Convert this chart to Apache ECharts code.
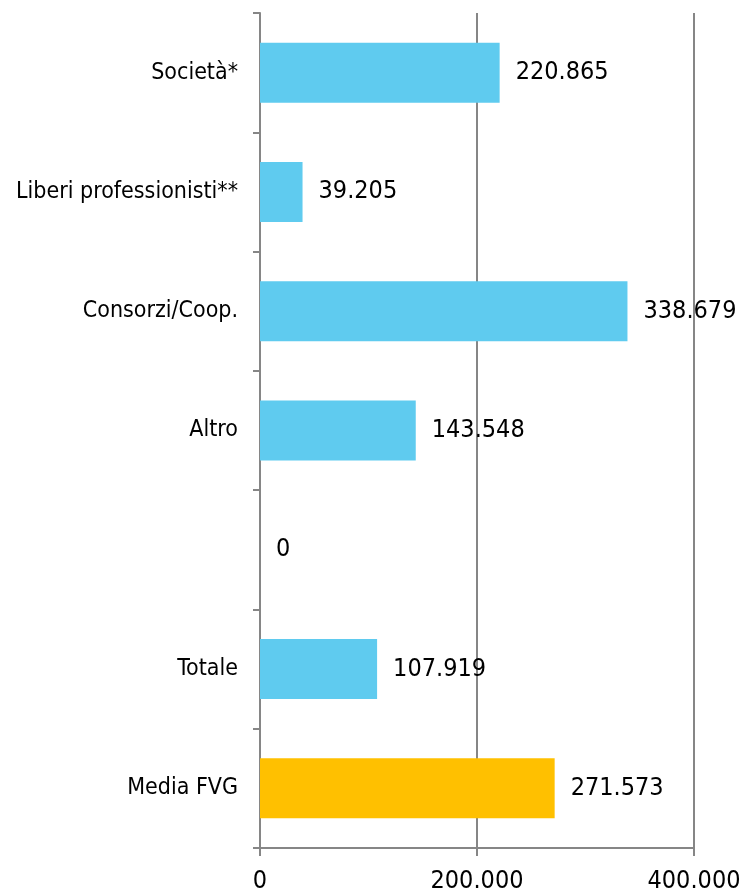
<!DOCTYPE html>
<html>
<head>
<meta charset="utf-8">
<script src="https://cdn.jsdelivr.net/npm/echarts@6/dist/echarts.min.js"></script>
<style>
html,body{margin:0;padding:0;background:#fff;overflow:hidden;}
#c{width:744px;height:894px;}
</style>
</head>
<body>
<div id="c"></div>
<script>
const categories = ["Società*", "Liberi professionisti**", "Consorzi/Coop.", "Altro", "", "Totale", "Media FVG"];
const values = [220865, 39205, 338679, 143548, 0, 107919, 271573];
const barColors = ["#5FCBEF", "#5FCBEF", "#5FCBEF", "#5FCBEF", "#5FCBEF", "#5FCBEF", "#FFC000"];
const xTicks = [0, 200000, 400000];

function fmt(v) {
  return String(Math.round(v)).replace(/\B(?=(\d{3})+(?!\d))/g, ".");
}

const FONT = "'DejaVu Sans Condensed', 'DejaVu Sans', sans-serif";
const GRAY = "#868686";

const chart = echarts.init(document.getElementById('c'), null, {renderer: 'canvas', width: 744, height: 894});
chart.setOption({
  animation: false,
  grid: {left: 260, right: 50, top: 13, bottom: 41, containLabel: false},
  xAxis: {
    type: 'value',
    min: xTicks[0],
    max: xTicks[xTicks.length - 1],
    interval: xTicks[1] - xTicks[0],
    axisLine: {show: true, lineStyle: {color: GRAY, width: 2}},
    axisTick: {show: true, length: 8, lineStyle: {color: GRAY, width: 2}},
    splitLine: {show: true, lineStyle: {color: GRAY, width: 2}},
    axisLabel: {
      formatter: fmt, color: '#000', fontSize: 25, fontFamily: FONT, margin: 21
    }
  },
  yAxis: {
    type: 'category',
    inverse: true,
    data: categories,
    axisLine: {show: true, lineStyle: {color: GRAY, width: 2}},
    axisTick: {show: true, length: 7, lineStyle: {color: GRAY, width: 2}},
    axisLabel: {color: '#000', fontSize: 23, fontFamily: FONT, margin: 22}
  },
  series: [{
    type: 'bar',
    barWidth: 60,
    data: values.map((v, i) => ({value: v, itemStyle: {color: barColors[i]}})),
    label: {
      show: true, position: 'right', distance: 16,
      formatter: p => fmt(p.value),
      color: '#000', fontSize: 25, fontFamily: FONT
    }
  }]
});
</script>
</body>
</html>
